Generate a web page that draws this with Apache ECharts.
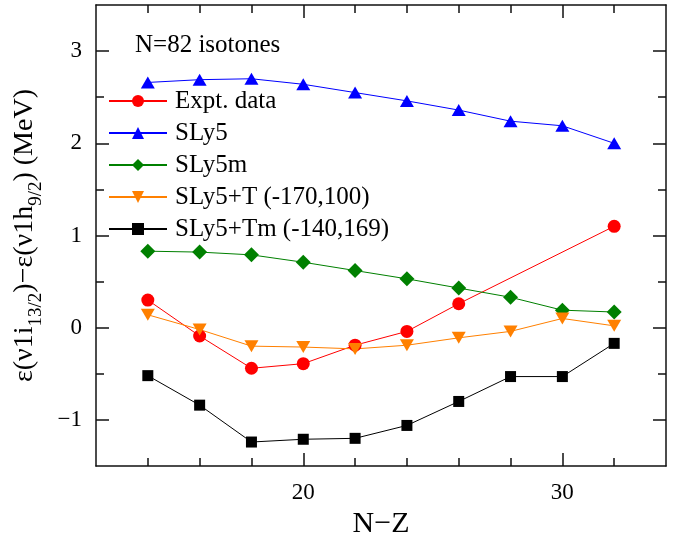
<!DOCTYPE html>
<html><head><meta charset="utf-8">
<script src="https://cdn.jsdelivr.net/npm/echarts@6/dist/echarts.min.js"></script>
<style>html,body{margin:0;padding:0;background:#fff}#c{width:685px;height:533px}</style>
</head><body><div id="c"></div>
<script>
// ---- data ----
const nzExpt = [14, 16, 18, 20, 22, 24, 26, 32];
const expt = [0.30, -0.09, -0.44, -0.39, -0.19, -0.04, 0.26, 1.10];
const nzCalc = [14, 16, 18, 20, 22, 24, 26, 28, 30, 32];
const sly5 = [2.66, 2.69, 2.70, 2.64, 2.55, 2.46, 2.36, 2.24, 2.19, 2.00];
const sly5m = [0.83, 0.82, 0.79, 0.71, 0.62, 0.53, 0.43, 0.33, 0.19, 0.17];
const sly5T = [0.14, -0.02, -0.20, -0.21, -0.23, -0.19, -0.11, -0.04, 0.10, 0.02];
const sly5Tm = [-0.52, -0.84, -1.24, -1.21, -1.20, -1.06, -0.80, -0.53, -0.53, -0.17];
const seriesNames = ['Expt. data', 'SLy5', 'SLy5m', 'SLy5+T (-170,100)', 'SLy5+Tm (-140,169)'];
const xLabelValues = [20, 30];
const xLabelTexts = ['20', '30'];
const xMinorTicks = [14, 16, 18, 22, 24, 26, 28, 32];
const xMajorTicks = [20, 30];
const yLabelValues = [-1, 0, 1, 2, 3];
const yLabelTexts = ['\u22121', '0', '1', '2', '3'];
const yMinorTicks = [-0.5, 0.5, 1.5, 2.5];
const yMajorTicks = [-1, 0, 1, 2, 3];
const titleText = 'N=82 isotones';
const xName = 'N\u2212Z';

// ---- chart ----
const FONT = "'Liberation Serif', 'Times New Roman', serif";
const AX = '#111';
const zip = (xs, ys) => xs.map((x, i) => [x, ys[i]]);

function xAxis(pos, ticks, len, showLine, showLabel, extra) {
  return Object.assign({
    type: 'value', position: pos, min: 12, max: 34,
    axisLine: {show: showLine, onZero: false, lineStyle: {color: AX, width: 1.5}},
    axisTick: {show: true, inside: true, length: len, customValues: ticks, lineStyle: {color: AX, width: 1.5}},
    axisLabel: showLabel ? {show: true, customValues: xLabelValues, margin: 15,
      formatter: v => xLabelTexts[xLabelValues.indexOf(v)] || '',
      color: '#000', fontFamily: FONT, fontSize: 23} : {show: false},
    splitLine: {show: false}
  }, extra || {});
}
function yAxis(pos, ticks, len, showLine, showLabel, extra) {
  return Object.assign({
    type: 'value', position: pos, min: -1.5, max: 3.5,
    axisLine: {show: showLine, onZero: false, lineStyle: {color: AX, width: 1.5}},
    axisTick: {show: true, inside: true, length: len, customValues: ticks, lineStyle: {color: AX, width: 1.5}},
    axisLabel: showLabel ? {show: true, customValues: yLabelValues, margin: 14,
      formatter: v => yLabelTexts[yLabelValues.indexOf(v)] || '',
      color: '#000', fontFamily: FONT, fontSize: 23} : {show: false},
    splitLine: {show: false}
  }, extra || {});
}

const yName = '{a|\u03b5(\u03bd1i}{s|13/2}{a|)\u2212\u03b5(\u03bd1h}{s|9/2}{a|) (MeV)}';

const chart = echarts.init(document.getElementById('c'), null, {renderer: 'canvas'});
const mk = (name, data, color, symbol, size, rot) => ({
  name, type: 'line', data, xAxisIndex: 0, yAxisIndex: 0,
  symbol, symbolSize: size, symbolRotate: rot || 0, showAllSymbol: true,
  lineStyle: {color, width: 1}, itemStyle: {color},
  emphasis: {disabled: true}, z: 3
});

chart.setOption({
  animation: false,
  backgroundColor: '#fff',
  grid: {left: 96, right: 19, top: 5, bottom: 67, containLabel: false, outerBoundsMode: 'none'},
  title: {text: titleText, left: 135, top: 33, padding: 0,
    textStyle: {fontFamily: FONT, fontSize: 25, fontWeight: 'normal', color: '#000', lineHeight: 25}},
  legend: {
    left: 108, top: 88, orient: 'vertical', padding: 0,
    itemWidth: 58, itemHeight: 15, itemGap: 6,
    data: seriesNames,
    textStyle: {fontFamily: FONT, fontSize: 25, color: '#000', lineHeight: 26, padding: [0, 0, 0, 3]},
    selectedMode: false
  },
  xAxis: [
    xAxis('bottom', xMinorTicks, 8, true, true, {
      name: xName, nameLocation: 'middle', nameGap: 33,
      nameTextStyle: {fontFamily: FONT, fontSize: 30, color: '#000'}
    }),
    xAxis('top', xMinorTicks, 8, true, false),
    xAxis('bottom', xMajorTicks, 13, false, false),
    xAxis('top', xMajorTicks, 13, false, false)
  ],
  yAxis: [
    yAxis('left', yMinorTicks, 8, true, true, {
      name: yName, nameLocation: 'middle', nameGap: 53,
      nameTextStyle: {color: '#000', rich: {
        a: {fontFamily: FONT, fontSize: 28, lineHeight: 32, verticalAlign: 'top', color: '#000'},
        s: {fontFamily: FONT, fontSize: 19, lineHeight: 19, padding: [16, 0, 0, 0], verticalAlign: 'top', color: '#000'}
      }}
    }),
    yAxis('right', yMinorTicks, 8, true, false),
    yAxis('left', yMajorTicks, 13, false, false),
    yAxis('right', yMajorTicks, 13, false, false)
  ],
  series: [
    mk(seriesNames[0], zip(nzExpt, expt), '#ff0000', 'circle', 13),
    mk(seriesNames[1], zip(nzCalc, sly5), '#0000ff', 'triangle', [14, 12]),
    mk(seriesNames[2], zip(nzCalc, sly5m), '#008000', 'diamond', 15),
    mk(seriesNames[3], zip(nzCalc, sly5T), '#ff8000', 'triangle', [14, 12], 180),
    mk(seriesNames[4], zip(nzCalc, sly5Tm), '#000000', 'square', 11)
  ]
});
</script></body></html>
